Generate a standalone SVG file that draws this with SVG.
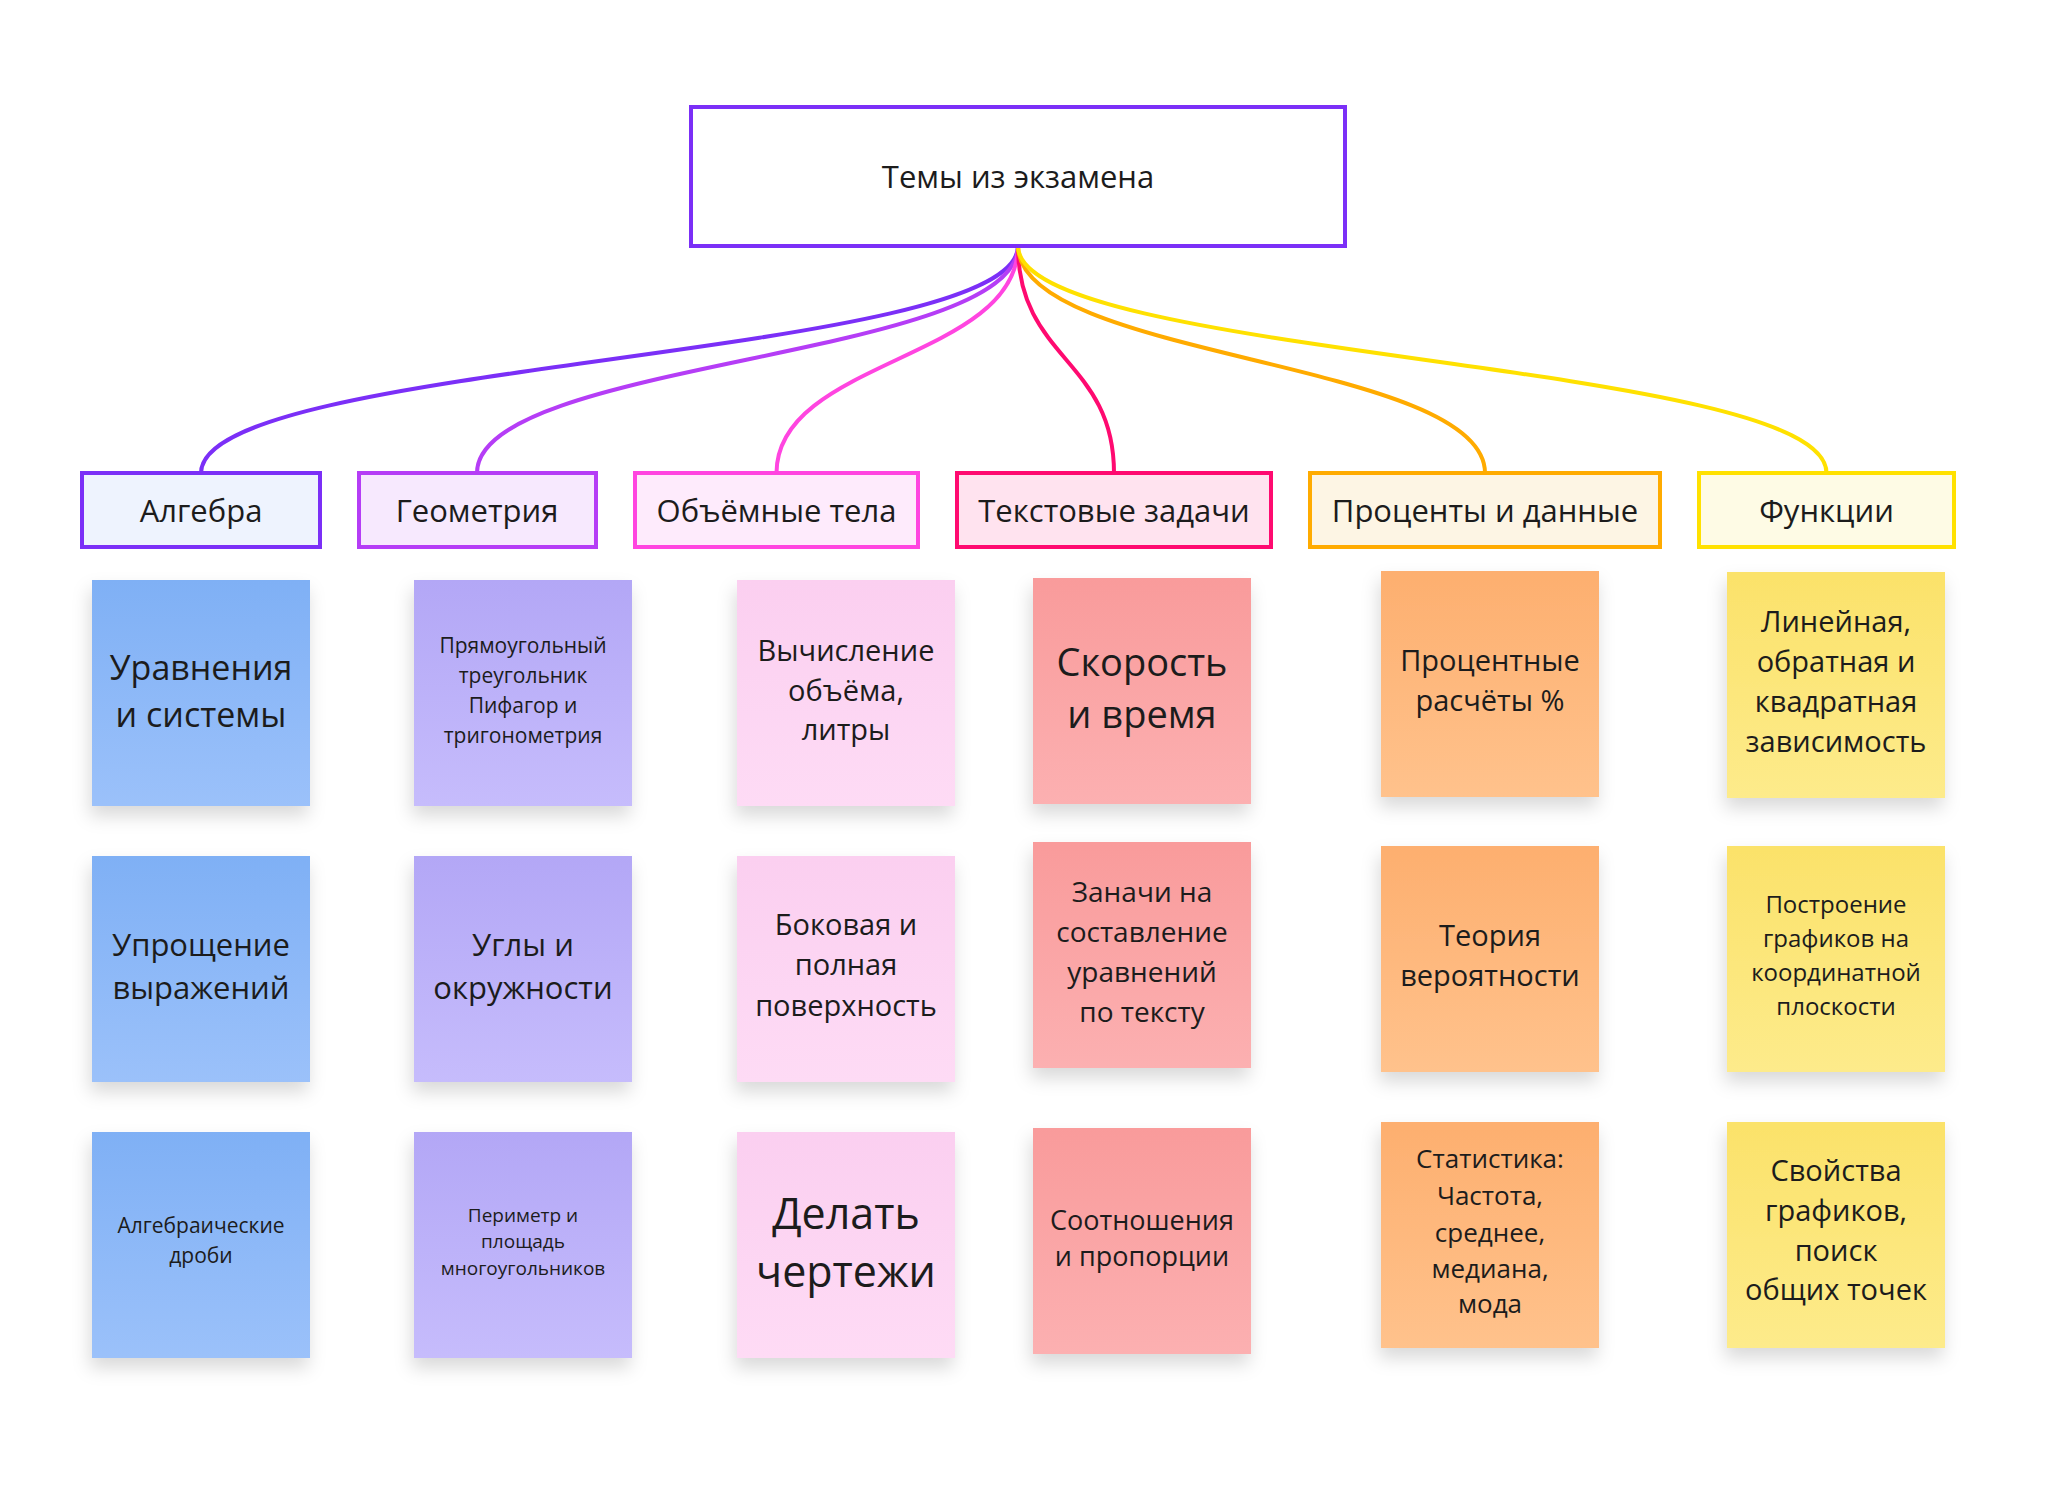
<svg xmlns="http://www.w3.org/2000/svg" width="2048" height="1490" viewBox="0 0 2048 1490">
<defs>
<style>
text{font-family:"Open Sans","Noto Sans","DejaVu Sans",sans-serif;fill:#1c1c1c;text-anchor:middle}
.cat{stroke-width:4}
.con{fill:none;stroke-width:4;stroke-linecap:round}
.st{filter:url(#sh)}
</style>
<filter id="sh" x="-20%" y="-20%" width="140%" height="150%">
<feDropShadow dx="-2" dy="10" stdDeviation="9" flood-color="#000" flood-opacity="0.15"/>
</filter>
<linearGradient id="gBlue" x1="0" y1="0" x2="0" y2="1"><stop offset="0" stop-color="#7fb0f5"/><stop offset="1" stop-color="#9bc1fa"/></linearGradient>
<linearGradient id="gPurple" x1="0" y1="0" x2="0" y2="1"><stop offset="0" stop-color="#b3a7f6"/><stop offset="1" stop-color="#c6bcfc"/></linearGradient>
<linearGradient id="gPink" x1="0" y1="0" x2="0" y2="1"><stop offset="0" stop-color="#fbcff0"/><stop offset="1" stop-color="#fedbf5"/></linearGradient>
<linearGradient id="gRed" x1="0" y1="0" x2="0" y2="1"><stop offset="0" stop-color="#f99b9b"/><stop offset="1" stop-color="#fcb0b1"/></linearGradient>
<linearGradient id="gOrange" x1="0" y1="0" x2="0" y2="1"><stop offset="0" stop-color="#fdaf6f"/><stop offset="1" stop-color="#ffc28c"/></linearGradient>
<linearGradient id="gYellow" x1="0" y1="0" x2="0" y2="1"><stop offset="0" stop-color="#fbe26a"/><stop offset="1" stop-color="#fdeb8b"/></linearGradient>
</defs>
<rect width="2048" height="1490" fill="#ffffff"/>

<g id="connectors">
<path class="con" stroke="#7b2ff7" d="M1018 246 C1018 359.5 201 359.5 201 473"/>
<path class="con" stroke="#b53df6" d="M1018 246 C1018 359.5 477 359.5 477 473"/>
<path class="con" stroke="#ff45e0" d="M1018 246 C1018 359.5 776.5 359.5 776.5 473"/>
<path class="con" stroke="#ff0a70" d="M1018 246 C1018 359.5 1114 359.5 1114 473"/>
<path class="con" stroke="#ffab00" d="M1018 246 C1018 359.5 1485 359.5 1485 473"/>
<path class="con" stroke="#ffe100" d="M1018 246 C1018 359.5 1826.5 359.5 1826.5 473"/>
</g>

<g id="root">
<rect x="691" y="107" width="654" height="139" fill="#ffffff" stroke="#7b2ff7" stroke-width="4"/>
<text x="1018" y="188" font-size="31">Темы из экзамена</text>
</g>

<g id="cat-algebra">
<rect class="cat" x="82" y="473" width="238" height="74" fill="#eef3fe" stroke="#7b2ff7"/>
<text x="201" y="522" font-size="31">Алгебра</text>
</g>
<g id="cat-geometry">
<rect class="cat" x="359" y="473" width="237" height="74" fill="#f7e9fe" stroke="#b53df6"/>
<text x="477" y="522" font-size="31">Геометрия</text>
</g>
<g id="cat-solids">
<rect class="cat" x="635" y="473" width="283" height="74" fill="#feebfc" stroke="#ff45e0"/>
<text x="776.5" y="522" font-size="31">Объёмные тела</text>
</g>
<g id="cat-word">
<rect class="cat" x="957" y="473" width="314" height="74" fill="#ffe3ef" stroke="#ff0a70"/>
<text x="1114" y="522" font-size="31">Текстовые задачи</text>
</g>
<g id="cat-percent">
<rect class="cat" x="1310" y="473" width="350" height="74" fill="#fdf5e4" stroke="#ffab00"/>
<text x="1485" y="522" font-size="31">Проценты и данные</text>
</g>
<g id="cat-func">
<rect class="cat" x="1699" y="473" width="255" height="74" fill="#fefbe5" stroke="#ffe100"/>
<text x="1826.5" y="522" font-size="31">Функции</text>
</g>

<!-- Column 1 -->
<g id="s1-1"><rect class="st" x="92" y="580" width="218" height="226" fill="url(#gBlue)"/>
<text font-size="34"><tspan x="201" y="680">Уравнения</tspan><tspan x="201" y="727">и системы</tspan></text></g>
<g id="s1-2"><rect class="st" x="92" y="856" width="218" height="226" fill="url(#gBlue)"/>
<text font-size="31"><tspan x="201" y="956">Упрощение</tspan><tspan x="201" y="999">выражений</tspan></text></g>
<g id="s1-3"><rect class="st" x="92" y="1132" width="218" height="226" fill="url(#gBlue)"/>
<text font-size="21"><tspan x="201" y="1233">Алгебраические</tspan><tspan x="201" y="1263">дроби</tspan></text></g>

<!-- Column 2 -->
<g id="s2-1"><rect class="st" x="414" y="580" width="218" height="226" fill="url(#gPurple)"/>
<text font-size="21"><tspan x="523" y="653">Прямоугольный</tspan><tspan x="523" y="683">треугольник</tspan><tspan x="523" y="713">Пифагор и</tspan><tspan x="523" y="743">тригонометрия</tspan></text></g>
<g id="s2-2"><rect class="st" x="414" y="856" width="218" height="226" fill="url(#gPurple)"/>
<text font-size="31"><tspan x="523" y="956">Углы и</tspan><tspan x="523" y="999">окружности</tspan></text></g>
<g id="s2-3"><rect class="st" x="414" y="1132" width="218" height="226" fill="url(#gPurple)"/>
<text font-size="19"><tspan x="523" y="1222">Периметр и</tspan><tspan x="523" y="1248">площадь</tspan><tspan x="523" y="1275">многоугольников</tspan></text></g>

<!-- Column 3 -->
<g id="s3-1"><rect class="st" x="737" y="580" width="218" height="226" fill="url(#gPink)"/>
<text font-size="29"><tspan x="846" y="661">Вычисление</tspan><tspan x="846" y="701">объёма,</tspan><tspan x="846" y="740">литры</tspan></text></g>
<g id="s3-2"><rect class="st" x="737" y="856" width="218" height="226" fill="url(#gPink)"/>
<text font-size="29"><tspan x="846" y="935">Боковая и</tspan><tspan x="846" y="975">полная</tspan><tspan x="846" y="1016">поверхность</tspan></text></g>
<g id="s3-3"><rect class="st" x="737" y="1132" width="218" height="226" fill="url(#gPink)"/>
<text font-size="43"><tspan x="846" y="1229">Делать</tspan><tspan x="846" y="1287">чертежи</tspan></text></g>

<!-- Column 4 -->
<g id="s4-1"><rect class="st" x="1033" y="578" width="218" height="226" fill="url(#gRed)"/>
<text font-size="38"><tspan x="1142" y="676">Скорость</tspan><tspan x="1142" y="728">и время</tspan></text></g>
<g id="s4-2"><rect class="st" x="1033" y="842" width="218" height="226" fill="url(#gRed)"/>
<text font-size="28"><tspan x="1142" y="902">Заначи на</tspan><tspan x="1142" y="942">составление</tspan><tspan x="1142" y="982">уравнений</tspan><tspan x="1142" y="1022">по тексту</tspan></text></g>
<g id="s4-3"><rect class="st" x="1033" y="1128" width="218" height="226" fill="url(#gRed)"/>
<text font-size="27"><tspan x="1142" y="1230">Соотношения</tspan><tspan x="1142" y="1266">и пропорции</tspan></text></g>

<!-- Column 5 -->
<g id="s5-1"><rect class="st" x="1381" y="571" width="218" height="226" fill="url(#gOrange)"/>
<text font-size="29"><tspan x="1490" y="671">Процентные</tspan><tspan x="1490" y="711">расчёты %</tspan></text></g>
<g id="s5-2"><rect class="st" x="1381" y="846" width="218" height="226" fill="url(#gOrange)"/>
<text font-size="29"><tspan x="1490" y="946">Теория</tspan><tspan x="1490" y="986">вероятности</tspan></text></g>
<g id="s5-3"><rect class="st" x="1381" y="1122" width="218" height="226" fill="url(#gOrange)"/>
<text font-size="26"><tspan x="1490" y="1168">Статистика:</tspan><tspan x="1490" y="1205">Частота,</tspan><tspan x="1490" y="1242">среднее,</tspan><tspan x="1490" y="1278">медиана,</tspan><tspan x="1490" y="1313">мода</tspan></text></g>

<!-- Column 6 -->
<g id="s6-1"><rect class="st" x="1727" y="572" width="218" height="226" fill="url(#gYellow)"/>
<text font-size="29"><tspan x="1836" y="632">Линейная,</tspan><tspan x="1836" y="672">обратная и</tspan><tspan x="1836" y="712">квадратная</tspan><tspan x="1836" y="752">зависимость</tspan></text></g>
<g id="s6-2"><rect class="st" x="1727" y="846" width="218" height="226" fill="url(#gYellow)"/>
<text font-size="24"><tspan x="1836" y="913">Построение</tspan><tspan x="1836" y="947">графиков на</tspan><tspan x="1836" y="981">координатной</tspan><tspan x="1836" y="1015">плоскости</tspan></text></g>
<g id="s6-3"><rect class="st" x="1727" y="1122" width="218" height="226" fill="url(#gYellow)"/>
<text font-size="29"><tspan x="1836" y="1181">Свойства</tspan><tspan x="1836" y="1221">графиков,</tspan><tspan x="1836" y="1261">поиск</tspan><tspan x="1836" y="1300">общих точек</tspan></text></g>
</svg>
